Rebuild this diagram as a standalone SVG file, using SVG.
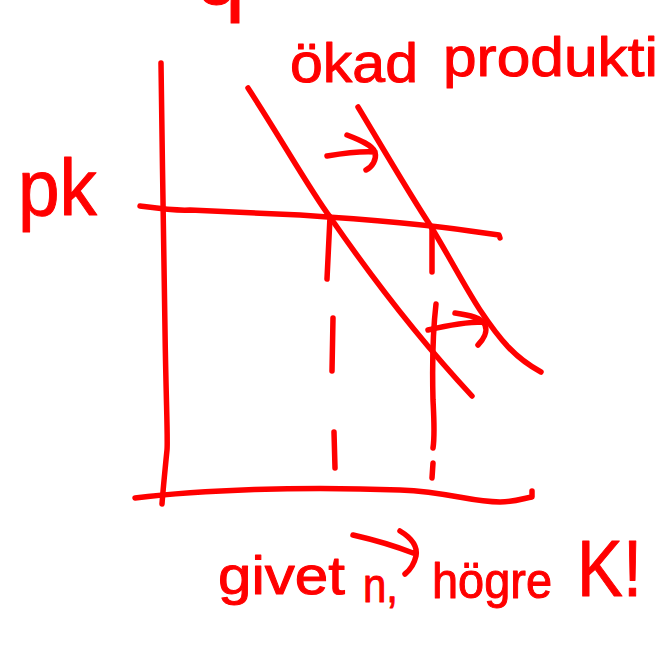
<svg xmlns="http://www.w3.org/2000/svg" width="656" height="645" viewBox="0 0 656 645">
<style>
.s{fill:none;stroke:#ff0000;stroke-width:5.5;stroke-linecap:round;stroke-linejoin:round}
.t{fill:#ff0000;stroke:#ff0000;stroke-width:1;stroke-linejoin:round;font-family:"Liberation Sans",Arial,sans-serif}
</style>
<rect width="656" height="645" fill="#ffffff"/>
<g id="axes">
<path class="s" d="M161,63 C162,150 164,250 165,330 C166,400 168,440 167,450 C165,470 163,490 162,504"/>
<path class="s" d="M135,498 C200,490 300,486 400,490 C450,492 470,502 500,502 C515,502 525,498 532,497 L532,491"/>
</g>
<g id="connectors">
<path id="pk-line" class="s" d="M140,206 C155,208 175,211 190,210 L300,215 C360,219 430,225 470,231 L499,235 L500,238"/>
<path id="curve1" class="s" d="M248,88 C280,137 310,190 330,217 C370,275 420,340 472,396"/>
<path id="curve2" class="s" d="M358,107 C372,130 410,195 430,225 C450,258 465,287 480,310 C500,340 515,358 541,372"/>
<path id="arrow1" class="s" d="M327,156 C345,153 360,151 375,152 M347,135 C360,140 372,145 375,152 C377,160 372,167 366,170"/>
<path id="arrow2" class="s" d="M428,330 C445,326 465,322 483,322 M455,313 C470,315 482,318 485,325 C488,332 483,340 478,345"/>
<path id="dash-left" class="s" d="M330,217 L327,279 M333,318 L332,371 M334,432 L335,468"/>
<path id="dash-right" class="s" d="M432,229 L432,272 M436,304 C433,330 432,360 433,400 C434,420 435,435 433,448 M433,463 L432,478"/>
<path id="arrow3" class="s" d="M353,535 C375,540 395,546 413,553 M400,531 C410,537 418,545 416,556 C414,565 410,570 405,574"/>
</g>
<g id="labels">
<text class="t" x="195" y="4" font-size="90">q</text>
<text class="t" x="290" y="82" font-size="56" textLength="128" lengthAdjust="spacingAndGlyphs">ökad</text>
<text class="t" x="443" y="76" font-size="56" textLength="215" lengthAdjust="spacingAndGlyphs">produkti</text>
<text class="t" x="18" y="215" font-size="80" textLength="79" lengthAdjust="spacingAndGlyphs">pk</text>
<text class="t" x="218" y="594" font-size="54" textLength="127" lengthAdjust="spacingAndGlyphs">givet</text>
<text class="t" x="363" y="602" font-size="48" textLength="35" lengthAdjust="spacingAndGlyphs">n,</text>
<text class="t" x="432" y="598" font-size="50" textLength="120" lengthAdjust="spacingAndGlyphs">högre</text>
<text class="t" x="577" y="596" font-size="80" textLength="65" lengthAdjust="spacingAndGlyphs">K!</text>
</g>
</svg>
